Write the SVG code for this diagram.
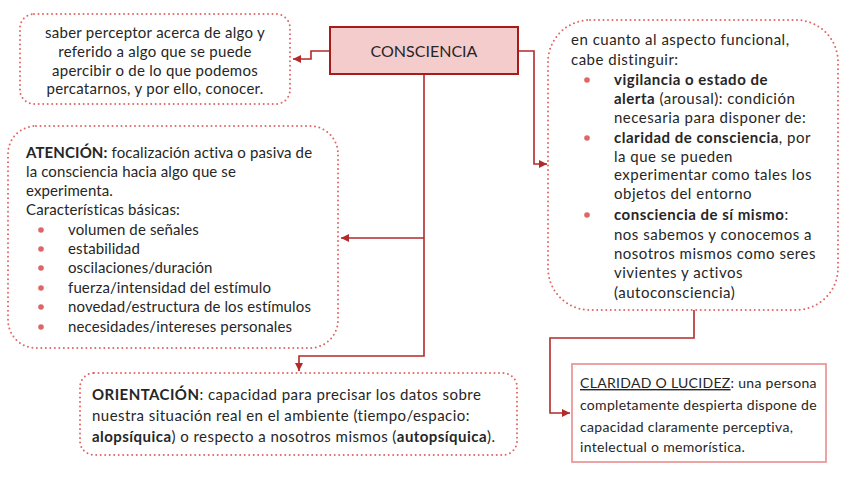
<svg xmlns="http://www.w3.org/2000/svg" width="848" height="477" viewBox="0 0 848 477">
<style>
text{font-family:Lato,"Liberation Sans",sans-serif;font-size:15px;fill:#262626}
.b{font-weight:bold}
.dot{fill:none;stroke:#e06666;stroke-width:2;stroke-dasharray:0 4.5;stroke-linecap:round}
.con{fill:none;stroke:#b22a2a;stroke-width:1.6}
.bul{fill:#e06666}
#definicion text{letter-spacing:0.27px}
#atencion text{letter-spacing:0.12px}
#funcional text{letter-spacing:0.5px}
#orientacion text{letter-spacing:0.45px}
#claridad text{font-size:14px;letter-spacing:0.3px}
</style>
<defs>
<marker id="ah" viewBox="0 0 6 6" refX="6" refY="3" markerWidth="5" markerHeight="5" orient="auto"><path d="M0,0L6,3L0,6z" fill="#b22a2a"/></marker>
</defs>
<rect width="848" height="477" fill="#fff"/>
<g id="connectors">
<path class="con" d="M330,51H311V59H293" marker-end="url(#ah)"/>
<path class="con" d="M518,51H534V164H547" marker-end="url(#ah)"/>
<path class="con" d="M424,74V356H299V371" marker-end="url(#ah)"/>
<path class="con" d="M424,238H341" marker-end="url(#ah)"/>
<path class="con" d="M694,310V338H550V413H570" marker-end="url(#ah)"/>
</g>
<g id="consciencia">
<rect x="330" y="27" width="188" height="47" fill="#f4cccc" stroke="#a61c1c" stroke-width="2"/>
<text x="424" y="57" text-anchor="middle" style="font-size:16px">CONSCIENCIA</text>
</g>
<g id="definicion">
<rect class="dot" x="20" y="14" width="270" height="90" rx="14"/>
<text text-anchor="middle"><tspan x="155" y="38">saber perceptor acerca de algo y</tspan><tspan x="155" y="57">referido a algo que se puede</tspan><tspan x="155" y="76">apercibir o de lo que podemos</tspan><tspan x="155" y="94">percatarnos, y por ello, conocer.</tspan></text>
</g>
<g id="atencion">
<rect class="dot" x="8" y="126" width="330" height="222" rx="28"/>
<text x="26" y="158"><tspan class="b">ATENCIÓN:</tspan> focalización activa o pasiva de</text>
<text x="26" y="177">la consciencia hacia algo que se</text>
<text x="26" y="196">experimenta.</text>
<text x="26" y="215">Características básicas:</text>
<g class="bul"><circle cx="41" cy="230" r="2.8"/><circle cx="41" cy="249" r="2.8"/><circle cx="41" cy="268" r="2.8"/><circle cx="41" cy="288" r="2.8"/><circle cx="41" cy="307" r="2.8"/><circle cx="41" cy="327" r="2.8"/></g>
<text x="68" y="235">volumen de señales</text>
<text x="68" y="254">estabilidad</text>
<text x="68" y="273">oscilaciones/duración</text>
<text x="68" y="293">fuerza/intensidad del estímulo</text>
<text x="68" y="312">novedad/estructura de los estímulos</text>
<text x="68" y="332">necesidades/intereses personales</text>
</g>
<g id="funcional">
<rect class="dot" x="548" y="20" width="290" height="290" rx="42"/>
<text x="571" y="45">en cuanto al aspecto funcional,</text>
<text x="571" y="65">cabe distinguir:</text>
<g class="bul"><circle cx="587" cy="80" r="2.8"/><circle cx="587" cy="138" r="2.8"/><circle cx="587" cy="215" r="2.8"/></g>
<text x="614" y="85" class="b">vigilancia o estado de</text>
<text x="614" y="104"><tspan class="b">alerta</tspan> (arousal): condición</text>
<text x="614" y="123">necesaria para disponer de:</text>
<text x="614" y="143"><tspan class="b">claridad de consciencia</tspan>, por</text>
<text x="614" y="162">la que se pueden</text>
<text x="614" y="180">experimentar como tales los</text>
<text x="614" y="199">objetos del entorno</text>
<text x="614" y="220"><tspan class="b">consciencia de sí mismo</tspan>:</text>
<text x="614" y="240">nos sabemos y conocemos a</text>
<text x="614" y="259">nosotros mismos como seres</text>
<text x="614" y="278">vivientes y activos</text>
<text x="614" y="298">(autoconsciencia)</text>
</g>
<g id="orientacion">
<rect class="dot" x="80" y="373" width="437" height="82" rx="14"/>
<text x="92" y="400"><tspan class="b">ORIENTACIÓN</tspan>: capacidad para precisar los datos sobre</text>
<text x="92" y="421">nuestra situación real en el ambiente (tiempo/espacio:</text>
<text x="92" y="442"><tspan class="b">alopsíquica</tspan>) o respecto a nosotros mismos (<tspan class="b">autopsíquica</tspan>).</text>
</g>
<g id="claridad">
<rect x="572" y="364" width="254" height="98" fill="#fff" stroke="#ea9999" stroke-width="1.8"/>
<text x="580" y="388"><tspan text-decoration="underline">CLARIDAD O LUCIDEZ</tspan>: una persona</text>
<text x="580" y="410">completamente despierta dispone de</text>
<text x="580" y="432">capacidad claramente perceptiva,</text>
<text x="580" y="452">intelectual o memorística.</text>
</g>
</svg>
